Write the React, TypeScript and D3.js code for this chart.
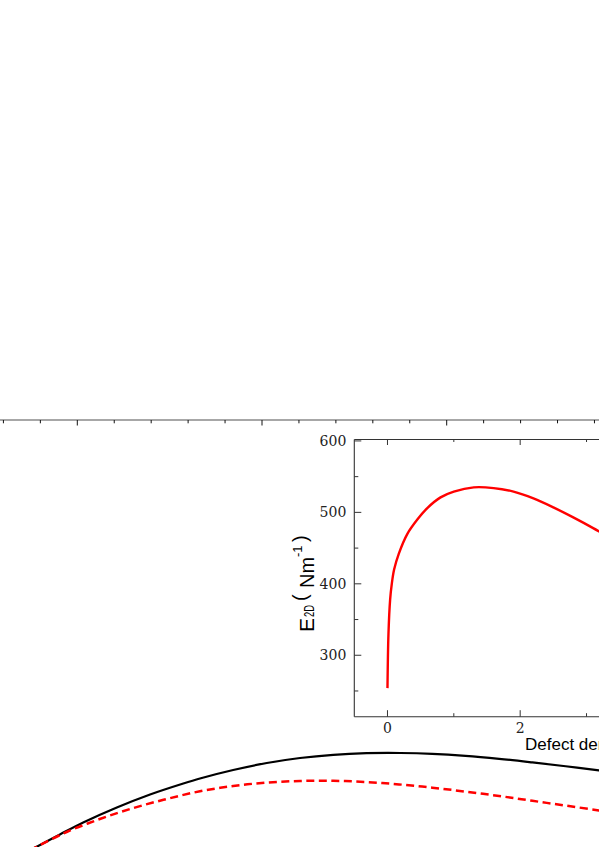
import React from "react";
import * as d3 from "d3";

// Main chart (only a cropped part is visible)
const pristineStrain = [0.0372, 0.0394, 0.0453, 0.0516, 0.0607, 0.0697, 0.0787, 0.0832, 0.0922, 0.1013, 0.1103, 0.1193, 0.1283, 0.1374, 0.1461, 0.1551, 0.1642, 0.1732, 0.1822, 0.1912, 0.197];
const pristineStress = [85.47, 86.1, 87.83, 89.63, 91.88, 93.83, 95.48, 96.23, 97.5, 98.55, 99.3, 99.78, 100.02, 100.05, 99.93, 99.63, 99.18, 98.64, 98.06, 97.44, 97.02];
const defectStrain = [0.0372, 0.0394, 0.0471, 0.0561, 0.0652, 0.0742, 0.0832, 0.0922, 0.1013, 0.1103, 0.1193, 0.1283, 0.1371, 0.1461, 0.1551, 0.1642, 0.1732, 0.1822, 0.1912, 0.197];
const defectStress = [85.47, 86.1, 88.2, 90.15, 91.8, 93.15, 94.31, 95.1, 95.61, 95.85, 95.88, 95.7, 95.34, 94.85, 94.26, 93.6, 92.88, 92.16, 91.44, 90.98];
const mainXMajorTicks = [0.05, 0.1, 0.15];
const mainXMinorTicks = [0.03, 0.04, 0.06, 0.07, 0.08, 0.09, 0.11, 0.12, 0.13, 0.14, 0.16, 0.17, 0.18, 0.19];

// Inset
const insetDensity = [0, 0.015, 0.04, 0.065, 0.1, 0.17, 0.3, 0.45, 0.6, 0.8, 1.0, 1.3, 1.6, 1.9, 2.2, 2.5, 2.8, 3.1, 3.4];
const insetModulus = [254, 330, 378, 400, 420, 442, 470, 490, 506, 521, 529, 535, 534, 529, 519.5, 507, 493, 478, 462];
const insetYTicks = [300, 400, 500, 600];
const insetYMinorTicks = [250, 350, 450, 550];
const insetXTicks = [0, 2];
const insetXMinorTicks = [1, 3, 5];
const insetXTopTicks = [0, 2, 4];
const insetXLabel = "Defect density (%)";

export default function App() {
  const W = 599;
  const H = 847;

  const mx = d3.scaleLinear().domain([0.05, 0.15]).range([77.3, 446.7]);
  const my = d3.scaleLinear().domain([0, 150]).range([1420, 420]);
  const mainTop = 420;

  const ix = d3.scaleLinear().domain([-0.5, 5.5]).range([354.3, 354.3 + 6 * 66.35]);
  const iy = d3.scaleLinear().domain([214, 602]).range([716.7, 439.5]);
  const iLeft = ix(-0.5);
  const iRight = ix(5.5);
  const iTop = iy(602);
  const iBottom = iy(214);

  const mainLine = d3
    .line<[number, number]>()
    .x((d) => mx(d[0]))
    .y((d) => my(d[1]))
    .curve(d3.curveCatmullRom.alpha(0.5));
  const insetLine = d3
    .line<[number, number]>()
    .x((d) => ix(d[0]))
    .y((d) => iy(d[1]))
    .curve(d3.curveCatmullRom.alpha(0.5));

  const pristine = pristineStrain.map((s, i) => [s, pristineStress[i]] as [number, number]);
  const defect = defectStrain.map((s, i) => [s, defectStress[i]] as [number, number]);
  const inset = insetDensity.map((s, i) => [s, insetModulus[i]] as [number, number]);

  const serif = "'DejaVu Serif', serif";
  const sans = "'Liberation Sans', Arial, sans-serif";

  return (
    <svg
      width={W}
      height={H}
      style={{ position: "absolute", left: 0, top: 0, overflow: "hidden", background: "#fff" }}
    >
      <rect x={0} y={0} width={W} height={H} fill="#fff" />
      {/* main chart top axis */}
      <line x1={-10} x2={W + 10} y1={mainTop} y2={mainTop} stroke="#8a8a8a" strokeWidth={1.3} />
      {mainXMajorTicks.map((t) => (
        <line key={"mj" + t} x1={mx(t)} x2={mx(t)} y1={mainTop} y2={mainTop + 5.5} stroke="#111" strokeWidth={1} />
      ))}
      {mainXMinorTicks.map((t) => (
        <line key={"mn" + t} x1={mx(t)} x2={mx(t)} y1={mainTop} y2={mainTop + 3.3} stroke="#111" strokeWidth={1} />
      ))}

      {/* main curves */}
      <path d={mainLine(pristine) || ""} fill="none" stroke="#000" strokeWidth={2.2} />
      <path d={mainLine(defect) || ""} fill="none" stroke="#ff0000" strokeWidth={2.5} strokeDasharray="8,4.5" />

      {/* inset frame */}
      <line x1={iLeft} x2={iRight} y1={iTop} y2={iTop} stroke="#333" strokeWidth={1.1} />
      <line x1={iLeft} x2={iRight} y1={iBottom} y2={iBottom} stroke="#333" strokeWidth={1.1} />
      <line x1={iLeft} x2={iLeft} y1={iTop} y2={iBottom} stroke="#333" strokeWidth={1.1} />

      {/* inset y ticks */}
      {insetYTicks.map((t) => (
        <g key={"iy" + t}>
          <line x1={iLeft} x2={iLeft + 7} y1={iy(t)} y2={iy(t)} stroke="#333" strokeWidth={1} />
          <text x={iLeft - 8} y={iy(t)} dy="0.36em" textAnchor="end" fontFamily={serif} fontSize={14} fill="#222">
            {t}
          </text>
        </g>
      ))}
      {insetYMinorTicks.map((t) => (
        <line key={"iym" + t} x1={iLeft} x2={iLeft + 4} y1={iy(t)} y2={iy(t)} stroke="#333" strokeWidth={1} />
      ))}

      {/* inset x ticks */}
      {insetXTopTicks.map((t) => (
        <g key={"ix" + t}>
          <line x1={ix(t)} x2={ix(t)} y1={iBottom} y2={iBottom - 6.5} stroke="#333" strokeWidth={1} />
          <line x1={ix(t)} x2={ix(t)} y1={iTop} y2={iTop + 5.5} stroke="#333" strokeWidth={1} />
        </g>
      ))}
      {insetXTicks.map((t) => (
        <text key={"ixl" + t} x={ix(t)} y={733} textAnchor="middle" fontFamily={serif} fontSize={14} fill="#222">
          {t}
        </text>
      ))}
      {insetXMinorTicks.map((t) => (
        <g key={"ixm" + t}>
          <line x1={ix(t)} x2={ix(t)} y1={iBottom} y2={iBottom - 3.5} stroke="#333" strokeWidth={1} />
          <line x1={ix(t)} x2={ix(t)} y1={iTop} y2={iTop + 2.5} stroke="#333" strokeWidth={1} />
        </g>
      ))}

      {/* inset curve */}
      <path d={insetLine(inset) || ""} fill="none" stroke="#ff0000" strokeWidth={2.4} />

      {/* inset x label */}
      <text x={525} y={750} fontFamily={sans} fontSize={17} fill="#000">
        {insetXLabel}
      </text>

      {/* inset y label, rotated */}
      <g transform="translate(314,632) rotate(-90)" fontFamily={sans} fill="#000">
        <text x={0} y={0} fontSize={21}>E</text>
        <text x={15} y={0} fontSize={14} textLength={12} lengthAdjust="spacingAndGlyphs">2D</text>
        <text x={31} y={-7} fontSize={20}>(</text>
        <text x={44} y={0} fontSize={20}>Nm</text>
        <text x={75} y={-12} fontSize={13}>-1</text>
        <text x={90} y={-7} fontSize={20}>)</text>
      </g>
    </svg>
  );
}
